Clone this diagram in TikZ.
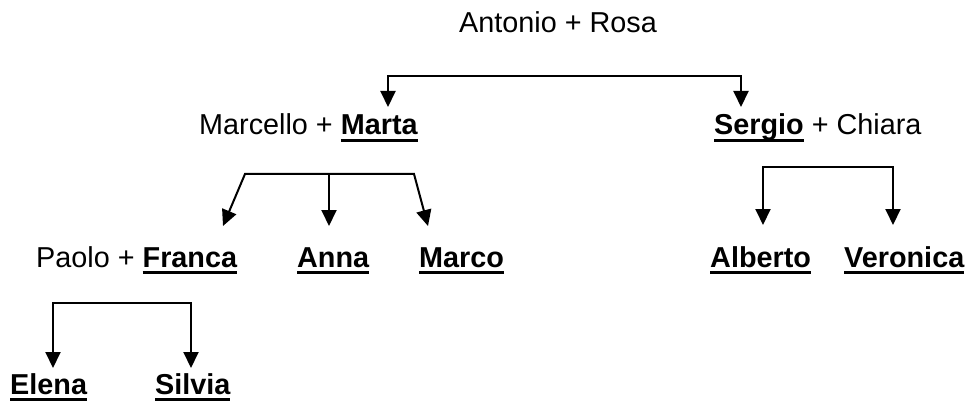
\documentclass[tikz,border=0pt]{standalone}
\usepackage{fontspec}
\setmainfont{Liberation Sans}
\usetikzlibrary{arrows.meta}
\newcommand\ulname[1]{\setbox0\hbox{\bfseries #1}\rlap{\rule[-7pt]{\wd0}{3.2pt}}\box0\relax}
\tikzset{
  lbl/.style={anchor=base west, inner sep=0pt, font=\fontsize{28.8}{34}\selectfont},
  conn/.style={line width=2pt, -{Triangle[length=16pt,width=15pt]}},
  conn2/.style={line width=2pt, {Triangle[length=16pt,width=15pt]}-{Triangle[length=16pt,width=15pt]}},
}
\begin{document}
\begin{tikzpicture}[x=1pt,y=-1pt]
\useasboundingbox (0,0) rectangle (972,409);
% text
\node[lbl] (ar) at (459,33) {Antonio + Rosa};
\node[lbl] (mm) at (199,135) {Marcello + \ulname{Marta}};
\node[lbl] (sc) at (714,135) {\ulname{Sergio} + Chiara};
\node[lbl] (pf) at (36,267) {Paolo + \ulname{Franca}};
\node[lbl] (an) at (297,267) {\ulname{Anna}};
\node[lbl] (mc) at (419,267) {\ulname{Marco}};
\node[lbl] (al) at (710,267) {\ulname{Alberto}};
\node[lbl] (ve) at (844,267) {\ulname{Veronica}};
\node[lbl] (el) at (10,394) {\ulname{Elena}};
\node[lbl] (si) at (155,394) {\ulname{Silvia}};
% top bracket
\coordinate (t1) at (388,76);
\coordinate (t2) at (741,76);
\coordinate (mmIn) at (388,107);
\coordinate (scIn) at (741,107);
\draw[conn2] (mmIn) -- (t1) -- (t2) -- (scIn);
% Marta bracket
\coordinate (m1) at (245,174);
\coordinate (m2) at (329,174);
\coordinate (m3) at (414,174);
\coordinate (pfIn) at (223,226);
\coordinate (anIn) at (329,226);
\coordinate (mcIn) at (428,226);
\draw[conn2] (pfIn) -- (m1) -- (m3) -- (mcIn);
\draw[conn] (m2) -- (anIn);
% Sergio bracket
\coordinate (s1) at (763,167);
\coordinate (s2) at (893,167);
\coordinate (alIn) at (763,225);
\coordinate (veIn) at (893,225);
\draw[conn2] (alIn) -- (s1) -- (s2) -- (veIn);
% Franca bracket
\coordinate (f1) at (53,303);
\coordinate (f2) at (191,303);
\coordinate (elIn) at (53,368);
\coordinate (siIn) at (191,368);
\draw[conn2] (elIn) -- (f1) -- (f2) -- (siIn);
\end{tikzpicture}
\end{document}
